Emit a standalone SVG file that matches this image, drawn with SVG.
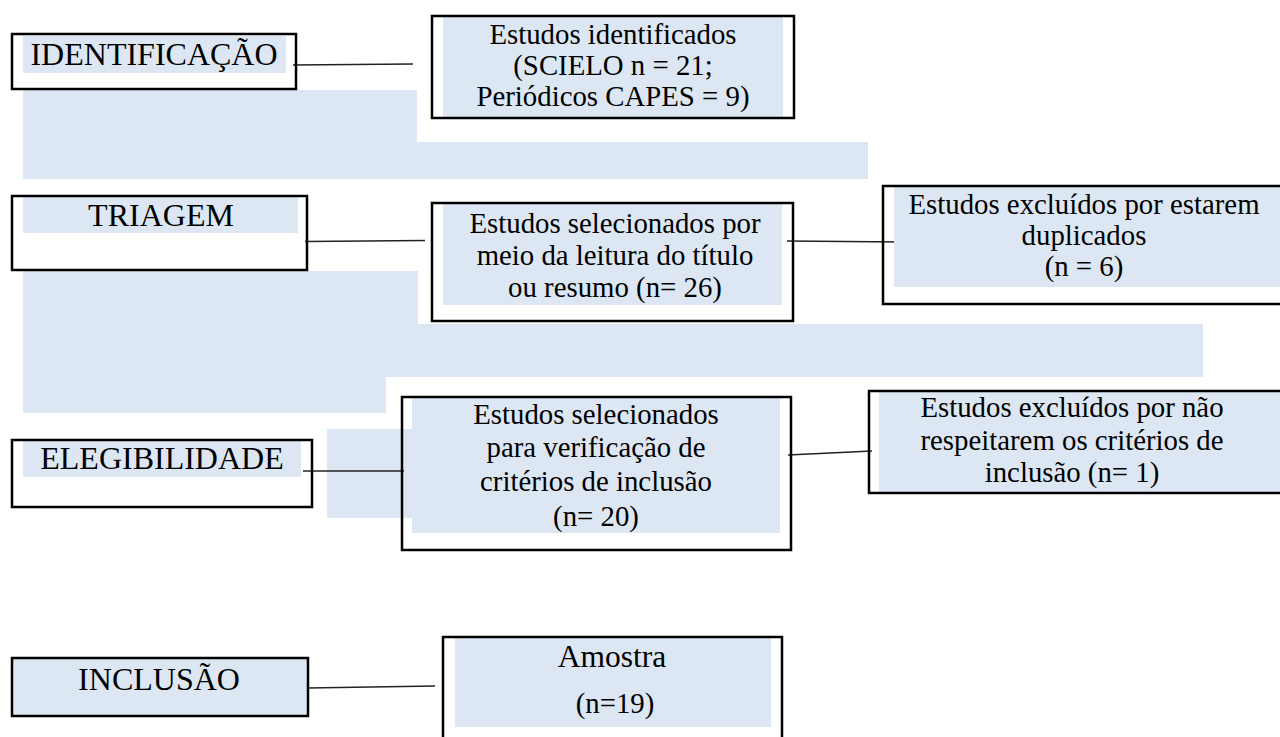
<svg xmlns="http://www.w3.org/2000/svg" width="1280" height="737" viewBox="0 0 1280 737">
<style>
  .hl { fill: #DCE7F3; }
  .box { fill: none; stroke: #000; stroke-width: 2.5; }
  .lbl { font-family: "Liberation Serif", "Times New Roman", serif; font-size: 32px; fill: #000; text-anchor: middle; }
  .txt { font-family: "Liberation Serif", "Times New Roman", serif; font-size: 28.8px; fill: #000; text-anchor: middle; }
  .big { font-size: 31.5px; }
  .con { stroke: #222; stroke-width: 1.4; fill: none; }
</style>
<rect width="1280" height="737" fill="#fff"/>
<g id="background-highlights">
  <polygon class="hl" points="23,90 417,90 417,142 868,142 868,179 23,179"/>
  <polygon class="hl" points="23,271 418,271 418,324 1203,324 1203,377 386,377 386,413 23,413"/>
  <rect class="hl" x="327" y="429" width="85" height="89"/>
</g>
<g id="connectors">
  <line class="con" x1="293" y1="65" x2="413" y2="64"/>
  <line class="con" x1="305" y1="241.5" x2="425" y2="240.5"/>
  <line class="con" x1="787" y1="241" x2="903" y2="242"/>
  <line class="con" x1="303" y1="471" x2="404" y2="471"/>
  <line class="con" x1="788" y1="455" x2="872" y2="451"/>
  <line class="con" x1="307" y1="688" x2="435" y2="686"/>
</g>
<g id="identificacao">
  <rect class="hl" x="23" y="36" width="263" height="37"/>
  <rect class="box" x="12" y="34" width="284" height="55"/>
  <text class="lbl" x="154" y="65">IDENTIFICAÇÃO</text>
</g>
<g id="triagem">
  <rect class="hl" x="23" y="197" width="275" height="36"/>
  <rect class="box" x="12" y="196" width="295" height="74"/>
  <text class="lbl" x="161" y="226">TRIAGEM</text>
</g>
<g id="elegibilidade">
  <rect class="hl" x="23" y="441" width="278" height="36"/>
  <rect class="box" x="12" y="440" width="300" height="67"/>
  <text class="lbl" x="162" y="469">ELEGIBILIDADE</text>
</g>
<g id="inclusao">
  <rect class="hl" x="12" y="658" width="296" height="58"/>
  <rect class="box" x="12" y="658" width="296" height="58"/>
  <text class="lbl" x="159" y="690">INCLUSÃO</text>
</g>
<g id="estudos-identificados">
  <rect class="hl" x="443" y="16" width="340" height="101"/>
  <rect class="box" x="432" y="16" width="362" height="102"/>
  <text class="txt" x="613" y="44">Estudos identificados</text>
  <text class="txt" x="613" y="75">(SCIELO n = 21;</text>
  <text class="txt" x="613" y="106">Periódicos CAPES = 9)</text>
</g>
<g id="estudos-selecionados-titulo">
  <rect class="hl" x="443" y="203" width="339" height="102"/>
  <rect class="box" x="432" y="203" width="361" height="118"/>
  <text class="txt" x="615" y="233">Estudos selecionados por</text>
  <text class="txt" x="615" y="265">meio da leitura do título</text>
  <text class="txt" x="615" y="297">ou resumo (n= 26)</text>
</g>
<g id="excluidos-duplicados">
  <rect class="hl" x="894" y="186" width="386" height="101"/>
  <rect class="box" x="883" y="186" width="410" height="118"/>
  <text class="txt" x="1084" y="214">Estudos excluídos por estarem</text>
  <text class="txt" x="1084" y="245">duplicados</text>
  <text class="txt" x="1084" y="276">(n = 6)</text>
</g>
<g id="estudos-selecionados-criterios">
  <rect class="hl" x="412" y="398" width="368" height="135"/>
  <rect class="box" x="402" y="397" width="389" height="153"/>
  <text class="txt" x="596" y="424">Estudos selecionados</text>
  <text class="txt" x="596" y="457">para verificação de</text>
  <text class="txt" x="596" y="491">critérios de inclusão</text>
  <text class="txt" x="596" y="526">(n= 20)</text>
</g>
<g id="excluidos-criterios">
  <rect class="hl" x="879" y="391" width="401" height="102"/>
  <rect class="box" x="869" y="391" width="424" height="102"/>
  <text class="txt" x="1072" y="417">Estudos excluídos por não</text>
  <text class="txt" x="1072" y="450">respeitarem os critérios de</text>
  <text class="txt" x="1072" y="482">inclusão (n= 1)</text>
</g>
<g id="amostra">
  <rect class="hl" x="455" y="637" width="316" height="90"/>
  <rect class="box" x="443" y="637" width="339" height="110"/>
  <text class="txt big" x="612" y="667">Amostra</text>
  <text class="txt" x="615" y="713">(n=19)</text>
</g>
</svg>
